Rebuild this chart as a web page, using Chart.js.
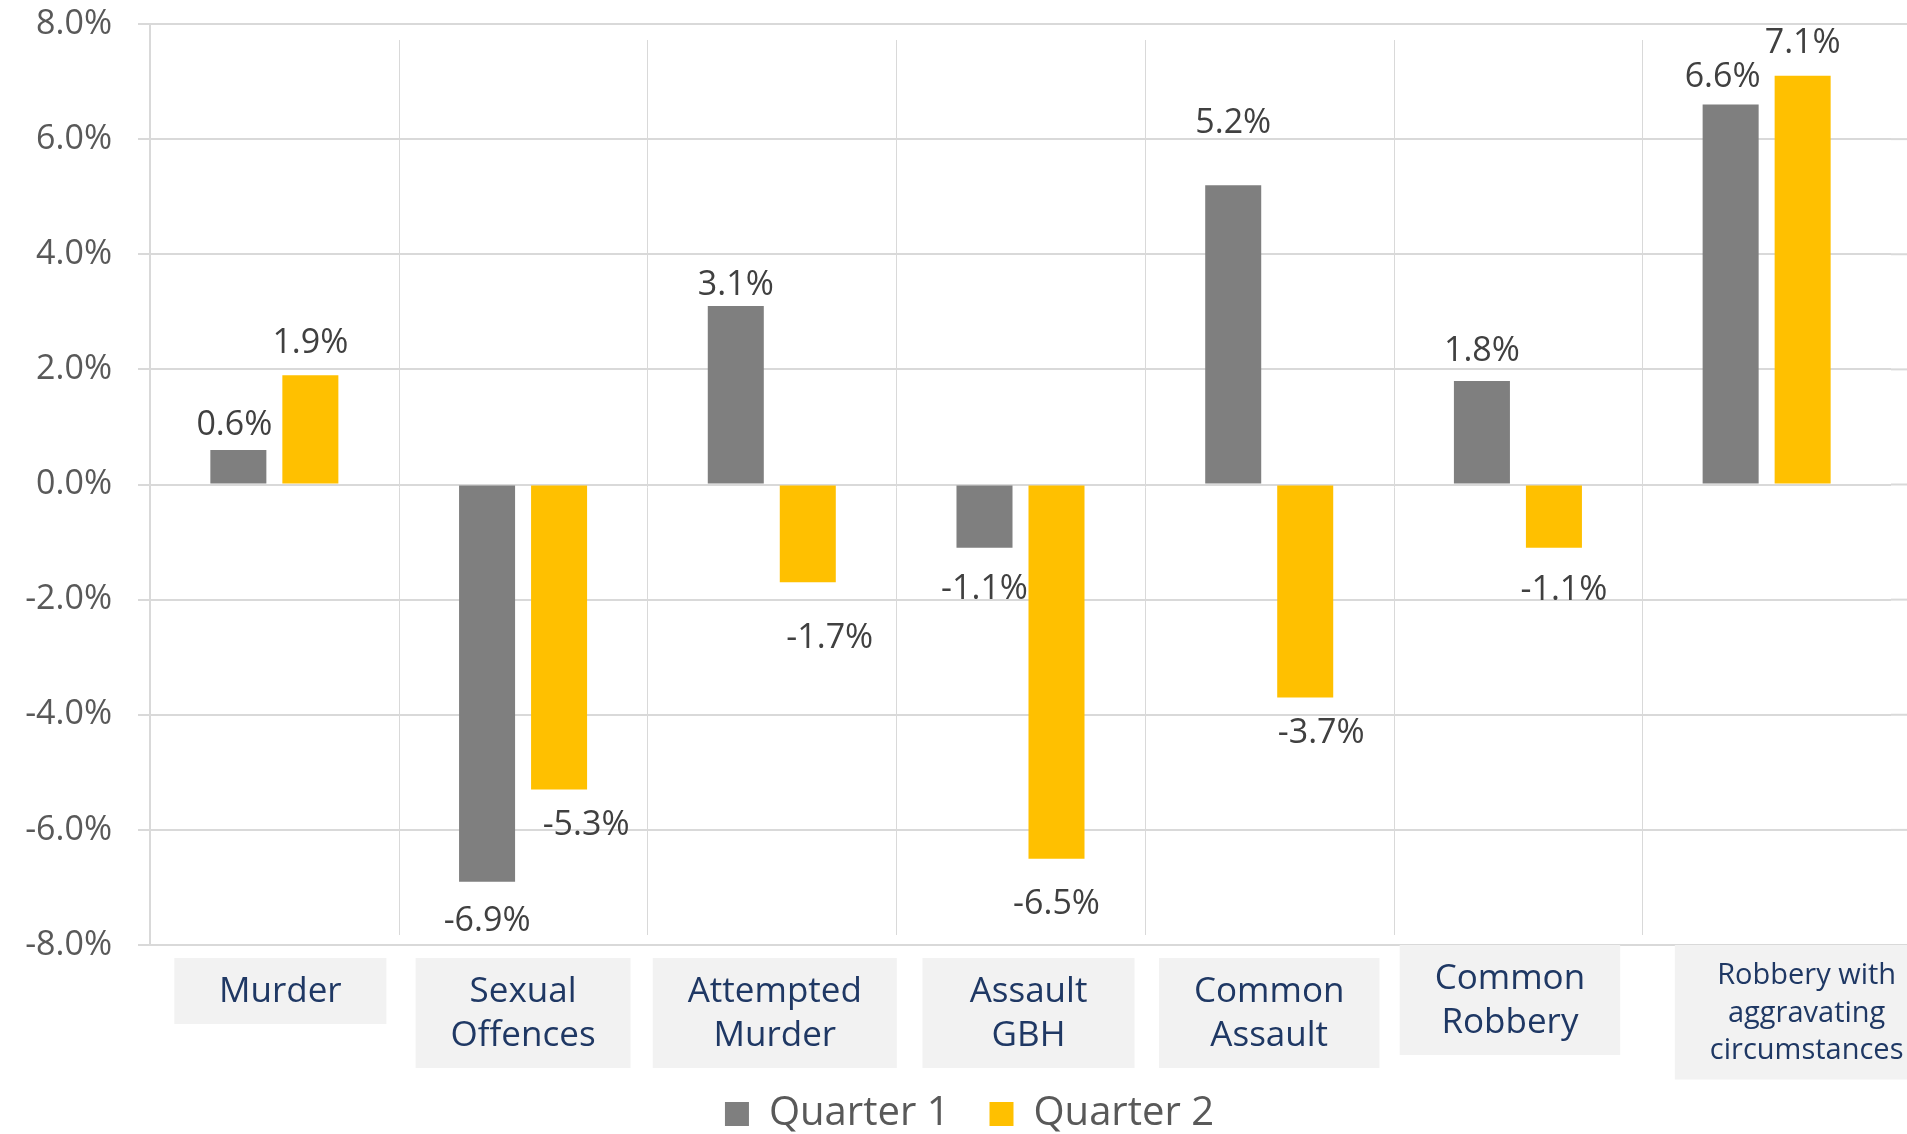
<!DOCTYPE html>
<html>
<head>
<meta charset="utf-8">
<script src="https://cdn.jsdelivr.net/npm/chart.js@4/dist/chart.umd.min.js"></script>
<style>
html,body{margin:0;padding:0;background:#ffffff;overflow:hidden}
#wrap{width:1907px;height:1134px;position:relative}
</style>
</head>
<body>
<div id="wrap"><canvas id="c" width="1907" height="1134"></canvas></div>
<script>
// ---- data ----
const categories = [
  'Murder',
  ['Sexual', 'Offences'],
  ['Attempted', 'Murder'],
  ['Assault', 'GBH'],
  ['Common', 'Assault'],
  ['Common', 'Robbery'],
  ['Robbery with', 'aggravating', 'circumstances']
];
const seriesNames = ['Quarter 1', 'Quarter 2'];
const quarter1 = [0.6, -6.9, 3.1, -1.1, 5.2, 1.8, 6.6];
const quarter2 = [1.9, -5.3, -1.7, -6.5, -3.7, -1.1, 7.1];
const yMin = -8, yMax = 8, yStep = 2;

// ---- styles ----
const FONT = '"Open Sans", "Noto Sans", sans-serif';
const GRID = '#D9D9D9';
const raisedLabels = [5, 6];                    // label boxes that sit right on the axis line
const labelBoxShift = [6, 0, 3, 8, 0, -8, 40];  // small horizontal nudges of the label boxes
// small [dx, dy] nudges of the value labels, per series (as placed in the original)
const q1LabelNudge = [[-4, 7], [0, 4], [0, 11], [0, 5], [0, -30], [0, 2], [-8, 5]];
const q2LabelNudge = [[0, 0], [27, 0], [22, 20], [0, 10], [16, 0], [10, 6], [0, 0]];
const labelNudges = [q1LabelNudge, q2LabelNudge];

const fmtPct = v => v.toFixed(1) + '%';

const gridExtend = {
  id: 'gridExtend',
  beforeDatasetsDraw(chart) {
    const {ctx, chartArea, scales: {x, y}} = chart;
    ctx.save();
    ctx.strokeStyle = GRID;
    ctx.lineWidth = 2;
    y.ticks.forEach(t => {
      const py = y.getPixelForValue(t.value);
      ctx.beginPath();
      ctx.moveTo(chartArea.right, py);
      ctx.lineTo(chart.width, py);
      ctx.stroke();
    });
    ctx.lineWidth = 1;
    for (let i = 1; i < categories.length; i++) {
      const px = Math.round((x.getPixelForValue(i - 1) + x.getPixelForValue(i)) / 2) + 0.5;
      ctx.beginPath();
      ctx.moveTo(px, chartArea.top + 16);
      ctx.lineTo(px, chartArea.bottom - 10);
      ctx.stroke();
    }
    ctx.restore();
  }
};

const dataLabels = {
  id: 'dataLabels',
  afterDatasetsDraw(chart) {
    const ctx = chart.ctx;
    ctx.save();
    ctx.font = '34px ' + FONT;
    ctx.fillStyle = '#404040';
    ctx.textAlign = 'center';
    ctx.textBaseline = 'middle';
    chart.data.datasets.forEach((ds, di) => {
      chart.getDatasetMeta(di).data.forEach((el, i) => {
        const v = ds.data[i];
        const [dx, dy] = labelNudges[di][i];
        const py = (v >= 0 ? el.y - 32 : el.y + 36) + dy;
        ctx.fillText(fmtPct(v), el.x + dx, py);
      });
    });
    ctx.restore();
  }
};

const categoryBoxes = {
  id: 'categoryBoxes',
  afterDraw(chart) {
    const {ctx, chartArea, scales: {x}} = chart;
    ctx.save();
    ctx.textAlign = 'center';
    ctx.textBaseline = 'middle';
    categories.forEach((c, i) => {
      const lines = Array.isArray(c) ? c : [c];
      const small = lines.length >= 3;
      const fs = small ? 29 : 35;
      const lh = small ? 37.5 : 44;
      ctx.font = fs + 'px ' + FONT;
      const tw = Math.max(...lines.map(l => ctx.measureText(l).width));
      const bw = Math.max(tw + 70, 212);
      const bh = lines.length * lh + 22;
      const cx = x.getPixelForValue(i) + labelBoxShift[i];
      const top = chartArea.bottom + (raisedLabels.includes(i) ? 0 : 13);
      ctx.fillStyle = '#F2F2F2';
      ctx.fillRect(cx - bw / 2, top, bw, bh);
      ctx.fillStyle = '#1F3864';
      lines.forEach((l, k) => {
        ctx.fillText(l, cx, top + 11 + lh * k + lh / 2 + 1);
      });
    });
    ctx.restore();
  }
};

const legendShift = {
  id: 'legendShift',
  afterLayout(chart) {
    if (chart.legend) {
      chart.legend.left += 24;
      chart.legend.right += 24;
    }
  }
};

const chart = new Chart(document.getElementById('c'), {
  type: 'bar',
  data: {
    labels: categories,
    datasets: [
      {label: seriesNames[0], data: quarter1, backgroundColor: '#7F7F7F', barPercentage: 0.778, categoryPercentage: 0.579},
      {label: seriesNames[1], data: quarter2, backgroundColor: '#FFC000', barPercentage: 0.778, categoryPercentage: 0.579}
    ]
  },
  options: {
    responsive: false,
    animation: false,
    devicePixelRatio: 1,
    layout: {padding: {top: 24, right: 16, left: 0, bottom: -10}},
    plugins: {
      tooltip: {enabled: false},
      legend: {
        position: 'bottom',
        labels: {
          font: {size: 40, family: FONT},
          color: '#595959',
          boxWidth: 24,
          boxHeight: 24,
          padding: 40
        }
      }
    },
    scales: {
      x: {
        grid: {display: false},
        border: {display: false},
        ticks: {display: false},
        afterFit(s) {
          const lg = s.chart.legend ? s.chart.legend.height : 60;
          s.height = s.chart.height + 10 - 945 - lg;
          s.paddingLeft = 0; s.paddingRight = 0;
        }
      },
      y: {
        min: yMin,
        max: yMax,
        ticks: {
          stepSize: yStep,
          callback: v => fmtPct(v),
          font: {size: 34, family: FONT},
          color: '#595959',
          padding: 26
        },
        grid: {color: GRID, lineWidth: 2, tickLength: 12, drawTicks: true},
        border: {display: true, color: GRID, width: 2},
        afterFit(s) {
          s.width = 150;
          s.paddingTop = 0; s.paddingBottom = 0;
        }
      }
    }
  },
  plugins: [legendShift, gridExtend, dataLabels, categoryBoxes]
});
</script>
</body>
</html>
